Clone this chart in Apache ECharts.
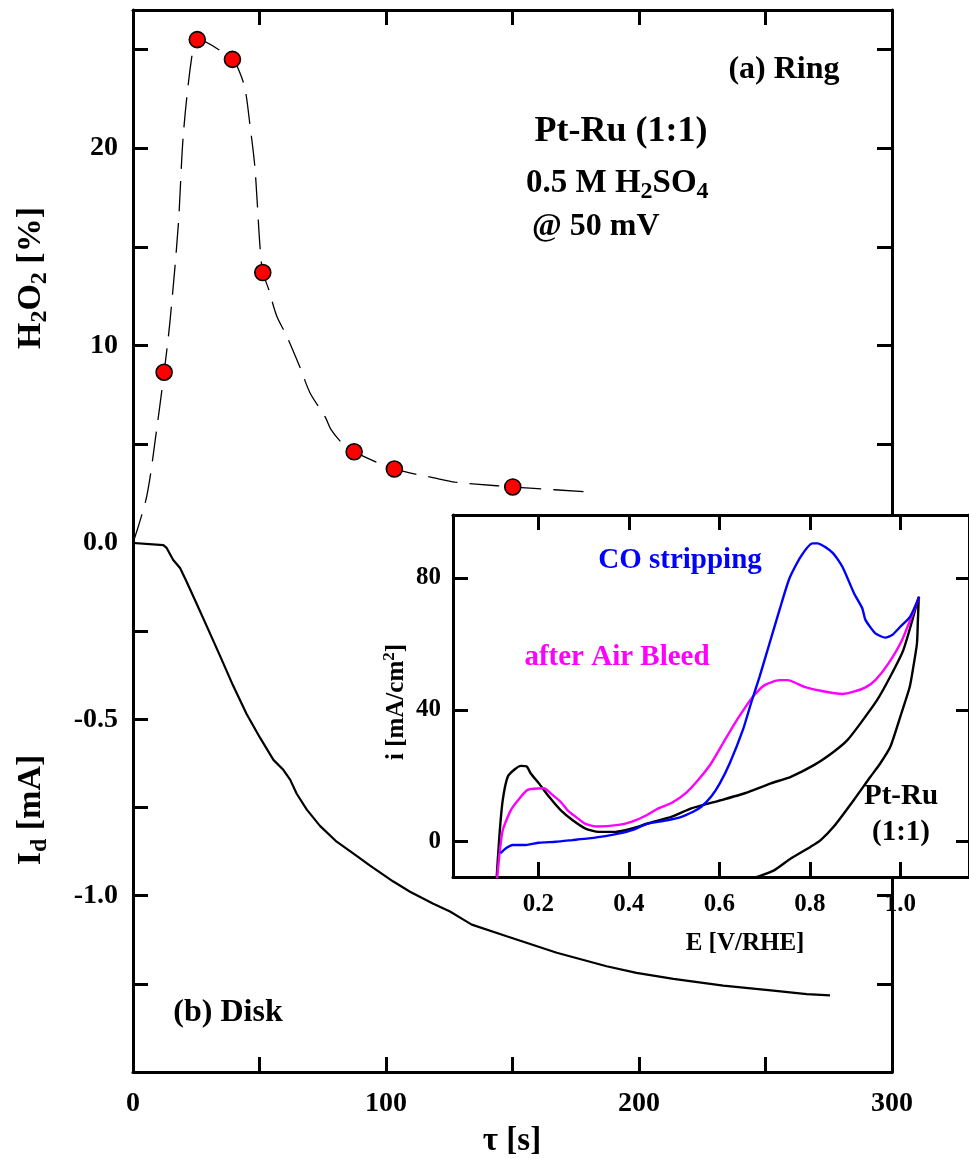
<!DOCTYPE html>
<html>
<head>
<meta charset="utf-8">
<script src="https://cdn.jsdelivr.net/npm/echarts@6/dist/echarts.min.js"></script>
<style>
html, body { margin: 0; padding: 0; background: #fff; }
#chart { width: 969px; height: 1159px; }
</style>
</head>
<body>
<div id="chart"></div>
<script>
// (a) ring: H2O2 yield, measured points
var ringTime = [12.3, 25.4, 39.3, 51.3, 87.4, 103.3, 150.1];
var ringH2O2 = [8.65, 25.5, 24.5, 13.7, 4.62, 3.75, 2.84];
// dashed guide line drawn through the ring points
var ringFitTime = [0, 5.4, 9.4, 12.3, 14.6, 17.9, 19.9, 23.2, 25.4, 39.3, 42.0, 44.3, 46.2, 48.2, 50.2, 51.3,
  53.5, 56.8, 60.7, 66.0, 70.0, 75.9, 78.5, 83.1, 87.4, 103.3, 120.0, 127.3, 143.7, 150.1, 156.9, 179.3];
var ringFitH2O2 = [0, 2.35, 5.8, 8.65, 11.2, 16.1, 20.7, 24.6, 25.5, 24.5, 23.9, 23.0, 21.2, 19.0, 15.0, 13.7,
  12.9, 11.5, 10.5, 8.9, 7.6, 6.4, 5.7, 5.0, 4.62, 3.75, 3.27, 3.08, 2.9, 2.84, 2.78, 2.59];

// (b) disk current
var diskTime = [0, 12.0, 13.3, 15.9, 18.6, 21.2, 25.2, 29.1, 34.4, 39.6, 44.9, 50.2, 55.5, 59.4, 62.1, 64.7,
  68.7, 73.9, 80.5, 88.4, 93.7, 102.9, 109.5, 118.7, 125.3, 130.6, 133.9, 147.7, 167.5, 187.2, 199.0, 213.6,
  233.3, 253.1, 266.3, 275.5];
var diskCurrent = [0, -0.006, -0.014, -0.048, -0.071, -0.11, -0.173, -0.235, -0.32, -0.405, -0.485, -0.552,
  -0.615, -0.643, -0.671, -0.711, -0.756, -0.802, -0.847, -0.887, -0.915, -0.96, -0.989, -1.023, -1.045,
  -1.068, -1.082, -1.115, -1.162, -1.2, -1.219, -1.236, -1.255, -1.269, -1.279, -1.283];

// inset: base CV of Pt-Ru (1:1), anodic then cathodic branch
var baseE = [0.107, 0.114, 0.121, 0.132, 0.147, 0.161, 0.174, 0.183, 0.201, 0.223, 0.249, 0.275, 0.304, 0.333,
  0.370, 0.407, 0.443, 0.495, 0.538, 0.604, 0.656, 0.714, 0.758, 0.810, 0.853, 0.883, 0.912, 0.949, 0.978,
  1.007, 1.041, 1.039, 1.037, 1.029, 1.021, 1.000, 0.978, 0.956, 0.934, 0.897, 0.853, 0.824, 0.802, 0.758,
  0.722, 0.685, 0.641];
var baseI = [-12, 2.5, 12.6, 19.7, 21.9, 23.0, 22.8, 20.7, 17.7, 13.7, 9.6, 6.6, 4.0, 3.0, 3.0, 4.0, 5.6, 7.6,
  10.1, 12.6, 14.7, 17.7, 19.7, 23.3, 27.3, 30.8, 35.9, 43.0, 50.1, 58.2, 74.3, 67.3, 60.2, 53.1, 47.0, 37.9,
  28.8, 23.8, 19.7, 12.6, 4.6, 0.5, -1.5, -5.1, -8.6, -10.6, -12.6];

// inset: CO stripping
var coE = [0.116, 0.128, 0.143, 0.172, 0.201, 0.238, 0.275, 0.311, 0.348, 0.385, 0.407, 0.440, 0.480, 0.513,
  0.542, 0.560, 0.582, 0.601, 0.623, 0.652, 0.670, 0.689, 0.711, 0.733, 0.755, 0.780, 0.806, 0.817, 0.850,
  0.872, 0.898, 0.916, 0.923, 0.945, 0.967, 0.982, 1.000, 1.022, 1.042];
var coI = [-3.5, -2.0, -1.0, -1.0, -0.3, 0, 0.5, 1.0, 1.7, 2.7, 3.5, 5.4, 6.4, 7.4, 9.1, 10.6, 13.7, 17.7,
  23.8, 33.9, 42.0, 50.1, 60.2, 70.3, 79.9, 86.5, 90.5, 90.5, 87.7, 83.4, 75.3, 70.8, 67.3, 63.2, 61.9, 62.7,
  65.2, 68.3, 74.3];

// inset: after air bleed
var airE = [0.108, 0.114, 0.121, 0.139, 0.158, 0.176, 0.212, 0.231, 0.249, 0.264, 0.282, 0.304, 0.330, 0.377,
  0.407, 0.440, 0.465, 0.495, 0.527, 0.553, 0.582, 0.612, 0.641, 0.674, 0.700, 0.733, 0.751, 0.788, 0.824,
  0.872, 0.897, 0.923, 0.945, 0.974, 1.004, 1.041];
var airI = [-12, -3.5, 3.5, 9.6, 13.1, 15.7, 16.2, 14.2, 12.1, 9.6, 7.6, 5.4, 4.6, 5.1, 6.1, 8.1, 10.1, 11.8,
  14.9, 18.7, 23.8, 30.8, 37.4, 44.0, 47.5, 49.0, 49.0, 47.0, 45.8, 44.8, 45.5, 46.8, 49.0, 54.1, 61.2, 74.0];

// tick positions
var xTicks = [50, 100, 150, 200, 250];
var xLabels = [0, 100, 200, 300];
var ringTicks = [5, 10, 15, 20, 25];
var ringLabels = [10, 20];
var diskTicks = [-0.25, -0.5, -0.75, -1.0, -1.25];
var diskLabels = [0, -0.5, -1.0];
var cvETicks = [0.2, 0.4, 0.6, 0.8, 1.0];
var cvITicks = [0, 40, 80];

function pairs (xs, ys) {
  return xs.map(function (x, i) { return [x, ys[i]] })
}

var SERIF = '"Liberation Serif", "Times New Roman", serif'
var line3 = { onZero: false, lineStyle: { color: '#000', width: 3 } }

function ticks (vals, len) {
  return { inside: true, length: len, customValues: vals, lineStyle: { color: '#000', width: 3 } }
}
function labels (vals, size, margin, fmt) {
  return {
    customValues: vals, color: '#000', fontFamily: SERIF, fontWeight: 'bold',
    fontSize: size, margin: margin, formatter: fmt
  }
}
function txt (x, y, text, size, color, extra, rot) {
  var st = {
    text: text, font: 'bold ' + size + 'px ' + SERIF, fill: color || '#000',
    align: 'center', verticalAlign: 'middle', textAlign: 'center', textVerticalAlign: 'middle'
  }
  for (var k in extra) st[k] = extra[k]
  return { type: 'text', x: x, y: y, rotation: rot || 0, z: 100, style: st }
}
function subRich (size) {
  return {
    s: { fontSize: size, fontWeight: 'bold', fontFamily: SERIF, verticalAlign: 'bottom', lineHeight: size },
    p: { fontSize: size, fontWeight: 'bold', fontFamily: SERIF, verticalAlign: 'top', lineHeight: size }
  }
}

var UP = Math.PI / 2

let myChart = echarts.init(document.getElementById('chart'))
myChart.setOption({
  animation: false,
  backgroundColor: '#fff',
  grid: [
    { left: 133, top: 10, width: 759, height: 533 },
    { left: 133, top: 543, width: 759, height: 529 },
    { left: 453, top: 515, width: 519, height: 362, show: true, backgroundColor: '#fff', borderWidth: 0, z: 5 }
  ],
  xAxis: [
    { gridIndex: 0, type: 'value', position: 'top', min: 0, max: 300, axisLine: line3,
      axisTick: ticks(xTicks, 15), axisLabel: { show: false }, splitLine: { show: false } },
    { gridIndex: 1, type: 'value', position: 'bottom', min: 0, max: 300, axisLine: line3,
      axisTick: ticks(xTicks, 15), axisLabel: labels(xLabels, 28, 18), splitLine: { show: false } },
    { gridIndex: 2, type: 'value', position: 'bottom', min: 0.011, max: 1.152, axisLine: line3, z: 6,
      axisTick: ticks(cvETicks, 15),
      axisLabel: labels(cvETicks, 25, 15, function (v) { return v.toFixed(1) }), splitLine: { show: false } },
    { gridIndex: 2, type: 'value', position: 'top', min: 0.011, max: 1.152, axisLine: line3, z: 6,
      axisTick: ticks(cvETicks, 15), axisLabel: { show: false }, splitLine: { show: false } }
  ],
  yAxis: [
    { gridIndex: 0, type: 'value', position: 'left', min: 0, max: 27, axisLine: line3,
      axisTick: ticks(ringTicks, 15), axisLabel: labels(ringLabels, 28, 15), splitLine: { show: false } },
    { gridIndex: 0, type: 'value', position: 'right', min: 0, max: 27, axisLine: line3,
      axisTick: ticks(ringTicks, 15), axisLabel: { show: false }, splitLine: { show: false } },
    { gridIndex: 1, type: 'value', position: 'left', min: -1.5, max: 0, axisLine: line3,
      axisTick: ticks(diskTicks, 15),
      axisLabel: labels(diskLabels, 28, 15, function (v) { return v.toFixed(1) }), splitLine: { show: false } },
    { gridIndex: 1, type: 'value', position: 'right', min: -1.5, max: 0, axisLine: line3,
      axisTick: ticks(diskTicks, 15), axisLabel: { show: false }, splitLine: { show: false } },
    { gridIndex: 2, type: 'value', position: 'left', min: -10.7, max: 99.1, axisLine: line3, z: 6,
      axisTick: ticks(cvITicks, 15), axisLabel: labels(cvITicks, 25, 12), splitLine: { show: false } },
    { gridIndex: 2, type: 'value', position: 'right', min: -10.7, max: 99.1, axisLine: line3, z: 6,
      axisTick: ticks(cvITicks, 13), axisLabel: { show: false }, splitLine: { show: false } }
  ],
  series: [
    {
      name: 'ring fit', type: 'line', xAxisIndex: 0, yAxisIndex: 0, smooth: 0.3, symbol: 'none',
      lineStyle: { color: '#000', width: 1.3, type: [30, 12] },
      data: pairs(ringFitTime, ringFitH2O2)
    },
    {
      name: 'ring', type: 'scatter', xAxisIndex: 0, yAxisIndex: 0, symbol: 'circle', symbolSize: 16, z: 3,
      itemStyle: { color: '#ff0000', borderColor: '#000', borderWidth: 1.6, opacity: 1 },
      data: pairs(ringTime, ringH2O2)
    },
    {
      name: 'disk', type: 'line', xAxisIndex: 1, yAxisIndex: 2, symbol: 'none',
      lineStyle: { color: '#000', width: 2.2 },
      data: pairs(diskTime, diskCurrent)
    },
    {
      name: 'Pt-Ru (1:1)', type: 'line', xAxisIndex: 2, yAxisIndex: 4, symbol: 'none', z: 7, smooth: 0.2,
      lineStyle: { color: '#000', width: 2.4 }, data: pairs(baseE, baseI)
    },
    {
      name: 'after Air Bleed', type: 'line', xAxisIndex: 2, yAxisIndex: 4, symbol: 'none', z: 7, smooth: 0.2,
      lineStyle: { color: '#ff00ff', width: 2.4 }, data: pairs(airE, airI)
    },
    {
      name: 'CO stripping', type: 'line', xAxisIndex: 2, yAxisIndex: 4, symbol: 'none', z: 7, smooth: 0.2,
      lineStyle: { color: '#0000ff', width: 2.4 }, data: pairs(coE, coI)
    }
  ],
  graphic: [
    // axis titles
    txt(31, 278, 'H{s|2}O{s|2} [%]', 34, '#000', { rich: subRich(24), lineHeight: 42 }, UP),
    txt(31, 810, 'I{s|d} [mA]', 34, '#000', { rich: subRich(24), lineHeight: 42 }, UP),
    txt(512, 1141, 'τ [s]', 33),
    txt(397, 702, 'i [mA/cm{p|2}]', 25, '#000', { rich: subRich(17), lineHeight: 32 }, UP),
    txt(745, 944, 'E [V/RHE]', 25),
    // panel notes
    txt(784, 70, '(a) Ring', 32),
    txt(621, 132, 'Pt-Ru (1:1)', 36),
    txt(526, 183, '0.5 M H{s|2}SO{s|4}', 33, '#000',
      { rich: subRich(24), lineHeight: 42, align: 'left', textAlign: 'left' }),
    txt(532, 227, '@ 50 mV', 32, '#000', { align: 'left', textAlign: 'left' }),
    txt(228, 1013, '(b) Disk', 32),
    txt(680, 561, 'CO stripping', 29, '#0000ff'),
    txt(617, 658, 'after Air Bleed', 29, '#ff00ff'),
    txt(901, 797, 'Pt-Ru', 29),
    txt(901, 833, '(1:1)', 29)
  ]
})
</script>
</body>
</html>
